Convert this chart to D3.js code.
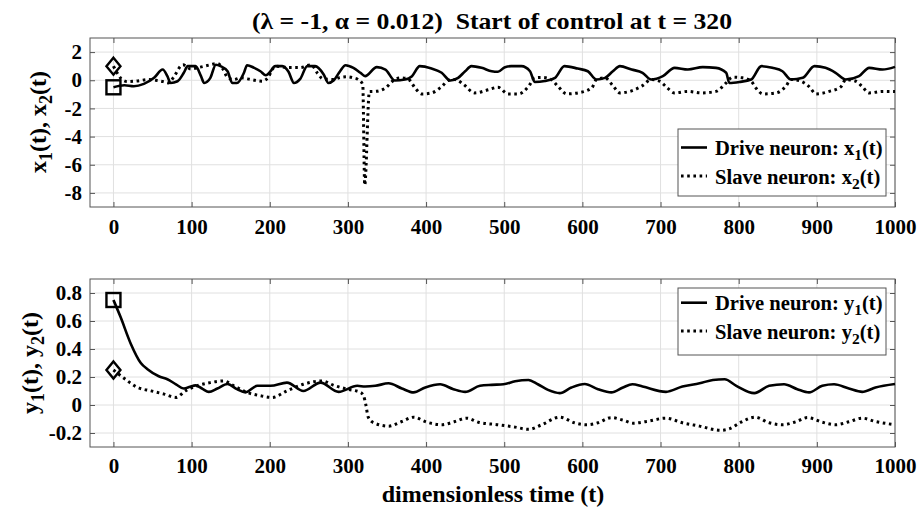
<!DOCTYPE html>
<html><head><meta charset="utf-8">
<script src="https://cdn.jsdelivr.net/npm/d3@7"></script>
<style>
body{margin:0;background:#fff;}
svg{display:block;}
text{font-family:"Liberation Serif","Times New Roman",serif;font-weight:bold;fill:#000;}
</style></head><body>
<svg id="c" width="918" height="510"></svg>
<script>
// ---------- DATA ----------
const titleText = "(\u03bb = -1, \u03b1 = 0.012)  Start of control at t = 320";
const xTicks = [0,100,200,300,400,500,600,700,800,900,1000];
const yTicksTop = [-8,-6,-4,-2,0,2];
const yTicksBottom = [-0.2,0,0.2,0.4,0.6,0.8];

// Top panel: drive x1 (solid)
const tX1 = [0,14,26,39,52,63,69,73,82,90,95,105,112,116,124,131,137,146,152,158,167,171,180,188,195,201,207,216,224,231,239,248,258,269,275,282,290,297,307,316,322,337,348,360,373,382,392,407,420,431,441,450,458,471,484,492,501,509,522,533,539,552,565,577,594,607,618,629,639,648,663,677,688,703,718,735,754,771,784,788,801,816,829,843,856,867,882,897,911,924,937,954,967,984,1000];
const vX1 = [-0.5,-0.36,-0.43,-0.26,0.17,0.76,0.29,-0.19,-0.07,0.53,1.0,1.0,0.29,-0.19,0.17,1.1,1.0,0.64,-0.19,-0.2,0.53,1.07,0.88,0.64,0.35,0.64,1.0,1.0,0.6,-0.19,0.1,1.0,1.0,0.41,-0.19,0.0,0.64,1.07,0.88,0.53,0.29,0.93,0.76,-0.02,0.05,0.29,1.0,0.83,0.53,-0.02,0.17,0.64,1.0,0.88,0.64,0.6,0.93,1.0,1.0,0.64,-0.12,-0.05,0.17,1.0,0.83,0.64,0.05,0.17,0.64,1.0,0.76,0.53,0.05,0.29,0.88,0.76,0.93,0.88,0.53,-0.19,-0.12,0.05,1.0,0.88,0.64,0.05,0.17,1.0,0.88,0.53,0.05,0.29,0.88,0.76,0.95];

// Top panel: slave x2 (dotted)
const tX2 = [0,5,10,18,30,45,56,64,70,78,86,89,99,111,124,133,140,146,154,163,176,190,198,203,208,224,239,253,261,268,282,290,299,307,313,319,321.5,327.5,335,348,360,369,378,386,395,407,420,429,437,448,462,480,492,505,518,531,539,548,560,569,580,594,612,618,629,639,648,663,677,688,699,707,718,735,752,771,784,792,805,816,822,831,848,860,867,877,890,899,916,931,937,950,958,967,984,1000];
const vX2 = [1.0,0.5,0.1,-0.1,-0.05,0.05,-0.02,-0.1,-0.19,0.3,1.0,1.1,0.8,0.93,1.1,1.2,0.8,0.2,0.05,0.17,0.05,-0.07,0.2,0.76,1.0,0.9,0.9,1.1,0.5,0.1,0.05,0.2,0.25,0.17,0.05,-0.3,-7.45,-0.8,-0.79,-0.55,0.05,0.17,0.05,-0.55,-0.97,-0.9,-0.45,0.0,0.05,-0.3,-0.9,-0.67,-0.5,-0.97,-0.97,-0.45,0.17,0.2,0.05,-0.45,-0.97,-0.9,-0.55,0.05,0.17,-0.38,-0.9,-0.75,-0.38,0.05,-0.07,-0.45,-0.9,-0.79,-0.9,-0.79,-0.19,0.22,0.17,-0.07,-0.55,-0.97,-0.9,-0.45,0.05,-0.02,-0.45,-0.97,-0.79,-0.45,0.05,-0.07,-0.45,-0.9,-0.79,-0.8];

// Bottom panel: drive y1 (solid)
const tY1 = [0,9,22,35,44,58,69,80,90,98,105,114,122,133,146,158,169,184,201,222,243,265,288,312,322,335,352,369,384,399,418,435,450,469,484,499,514,531,543,556,571,586,603,620,637,652,664,677,707,728,750,767,782,797,820,839,858,875,890,907,922,941,958,975,1000];
const vY1 = [0.75,0.63,0.44,0.30,0.254,0.205,0.184,0.148,0.118,0.13,0.14,0.115,0.094,0.118,0.15,0.113,0.09,0.137,0.137,0.16,0.10,0.16,0.094,0.137,0.132,0.137,0.155,0.118,0.09,0.125,0.148,0.113,0.094,0.137,0.144,0.148,0.17,0.179,0.148,0.108,0.085,0.125,0.15,0.113,0.09,0.125,0.148,0.132,0.094,0.132,0.155,0.179,0.184,0.137,0.085,0.137,0.148,0.113,0.09,0.137,0.148,0.118,0.094,0.125,0.15];

// Bottom panel: slave y2 (dotted)
const tY2 = [0,14,31,48,65,80,92,107,124,141,154,171,188,203,222,243,267,282,299,316,320,323,326,333,352,369,384,401,420,437,452,467,492,514,531,548,571,590,605,620,637,652,665,682,707,728,750,777,788,803,821,839,856,873,888,907,924,941,958,975,1000];
const vY2 = [0.25,0.189,0.125,0.101,0.078,0.054,0.101,0.137,0.16,0.172,0.137,0.09,0.066,0.054,0.101,0.148,0.172,0.14,0.113,0.09,0.066,0.0,-0.087,-0.127,-0.151,-0.118,-0.087,-0.123,-0.141,-0.118,-0.094,-0.123,-0.141,-0.158,-0.174,-0.141,-0.087,-0.127,-0.141,-0.127,-0.09,-0.108,-0.13,-0.118,-0.094,-0.127,-0.151,-0.181,-0.17,-0.123,-0.087,-0.127,-0.141,-0.12,-0.09,-0.123,-0.141,-0.12,-0.094,-0.118,-0.141];

// initial-condition markers
const topSquare = {t:0, v:-0.5}, topDiamond = {t:0, v:1.0};
const botSquare = {t:0, v:0.75}, botDiamond = {t:0, v:0.25};

const legendTop = [{pre:"Drive neuron: x", sub:"1", post:"(t)", dash:false},
                   {pre:"Slave neuron: x", sub:"2", post:"(t)", dash:true}];
const legendBot = [{pre:"Drive neuron: y", sub:"1", post:"(t)", dash:false},
                   {pre:"Slave neuron: y", sub:"2", post:"(t)", dash:true}];

// ---------- DRAW ----------
const svg = d3.select("#c");
const L = 90, R = 895;
const x = d3.scaleLinear().domain([-30,1000]).range([L,R]);
const yTop = d3.scaleLinear().domain([-9,3]).range([207,38]);
const yBot = d3.scaleLinear().domain([-0.3,0.9]).range([447,279]);

const fmt = v => (Math.abs(v)<1e-9 ? "0" : String(+v.toFixed(1)));
const AX = "#555";
const SOLID_W = 2.6, DOT_W = 3, DASH = "2.6 3.6";

function panel(y, yTicks, xPad) {
  const g = svg.append("g");
  const [y0,y1] = y.range();
  g.append("g").selectAll("line").data(xTicks).join("line")
    .attr("x1",d=>x(d)).attr("x2",d=>x(d)).attr("y1",y1).attr("y2",y0)
    .attr("stroke","#e0e0e0").attr("stroke-width",1);
  g.append("g").selectAll("line").data(yTicks).join("line")
    .attr("x1",L).attr("x2",R).attr("y1",d=>y(d)).attr("y2",d=>y(d))
    .attr("stroke","#e0e0e0").attr("stroke-width",1);
  const ab = g.append("g").attr("transform",`translate(0,${y0})`)
    .call(d3.axisBottom(x).tickValues(xTicks).tickSizeInner(-5).tickSizeOuter(0).tickPadding(xPad).tickFormat(d=>d));
  const at = g.append("g").attr("transform",`translate(0,${y1})`)
    .call(d3.axisTop(x).tickValues(xTicks).tickSizeInner(-5).tickSizeOuter(0).tickFormat(""));
  const al = g.append("g").attr("transform",`translate(${L},0)`)
    .call(d3.axisLeft(y).tickValues(yTicks).tickSizeInner(-5).tickSizeOuter(0).tickPadding(8).tickFormat(fmt));
  const ar = g.append("g").attr("transform",`translate(${R},0)`)
    .call(d3.axisRight(y).tickValues(yTicks).tickSizeInner(-5).tickSizeOuter(0).tickFormat(""));
  [ab,at,al,ar].forEach(a=>{
    a.select(".domain").remove();
    a.selectAll(".tick line").attr("stroke",AX).attr("stroke-width",1);
    a.selectAll("text").attr("font-family","Liberation Serif, serif").attr("font-weight","bold")
      .attr("font-size",21).attr("fill","#000");
  });
  g.append("rect").attr("x",L).attr("y",y1).attr("width",R-L).attr("height",y0-y1)
    .attr("fill","none").attr("stroke",AX).attr("stroke-width",1);
  return g;
}

const gT = panel(yTop, yTicksTop, 12);
const gB = panel(yBot, yTicksBottom, 11);

function series(g, y, ts, vs, dashed) {
  const pts = ts.map((t,i)=>[t,vs[i]]);
  const line = d3.line().x(d=>x(d[0])).y(d=>y(d[1])).curve(d3.curveMonotoneX);
  const p = g.append("path").attr("d",line(pts)).attr("fill","none").attr("stroke","#000")
    .attr("stroke-linejoin","round");
  if (dashed) p.attr("stroke-width",DOT_W).attr("stroke-dasharray",DASH);
  else p.attr("stroke-width",SOLID_W);
}
function square(g,y,m){ g.append("rect").attr("x",x(m.t)-7).attr("y",y(m.v)-7).attr("width",14).attr("height",14)
  .attr("fill","none").attr("stroke","#000").attr("stroke-width",2.4); }
function diamond(g,y,m){ const cx=x(m.t), cy=y(m.v);
  g.append("path").attr("d",`M${cx},${cy-8.5}L${cx+7},${cy}L${cx},${cy+8.5}L${cx-7},${cy}Z`)
  .attr("fill","none").attr("stroke","#000").attr("stroke-width",2.4); }

series(gT, yTop, tX1, vX1, false);
series(gT, yTop, tX2, vX2, true);
square(gT, yTop, topSquare); diamond(gT, yTop, topDiamond);
series(gB, yBot, tY1, vY1, false);
series(gB, yBot, tY2, vY2, true);
square(gB, yBot, botSquare); diamond(gB, yBot, botDiamond);

function legend(items, x0, y0, rowY, baseY) {
  const g = svg.append("g");
  g.append("rect").attr("x",x0).attr("y",y0).attr("width",886-x0).attr("height",67)
    .attr("fill","#fff").attr("stroke",AX).attr("stroke-width",1);
  items.forEach((it,i)=>{
    const ly = rowY[i];
    const l = g.append("line").attr("x1",681).attr("x2",707).attr("y1",ly).attr("y2",ly).attr("stroke","#000");
    if (it.dash) l.attr("stroke-width",DOT_W).attr("stroke-dasharray",DASH); else l.attr("stroke-width",SOLID_W);
    const t = g.append("text").attr("x",715).attr("y",baseY[i]).attr("font-size",20.6);
    t.append("tspan").text(it.pre);
    t.append("tspan").attr("font-size",15.5).attr("dy",5).text(it.sub);
    t.append("tspan").attr("dy",-5).text(it.post);
  });
}
legend(legendTop, 678, 129, [147.5,176], [155,183.5]);
legend(legendBot, 678, 288, [302.7,331], [310,338.5]);

// title
svg.append("text").attr("x",492).attr("y",29).attr("text-anchor","middle").attr("font-size",24)
  .style("white-space","pre").attr("textLength",480).attr("lengthAdjust","spacingAndGlyphs").text(titleText);
// x label
svg.append("text").attr("x",493).attr("y",502).attr("text-anchor","middle").attr("font-size",24).text("dimensionless time (t)");

function ylab(cx, cy, a) {
  const t = svg.append("text").attr("transform",`translate(${cx},${cy}) rotate(-90)`)
    .attr("text-anchor","middle").attr("font-size",24);
  t.append("tspan").text(a);
  t.append("tspan").attr("font-size",18).attr("dy",6).text("1");
  t.append("tspan").attr("dy",-6).text("(t), " + a);
  t.append("tspan").attr("font-size",18).attr("dy",6).text("2");
  t.append("tspan").attr("dy",-6).text("(t)");
}
ylab(46, 122, "x");
ylab(38, 363, "y");
</script>
</body></html>
